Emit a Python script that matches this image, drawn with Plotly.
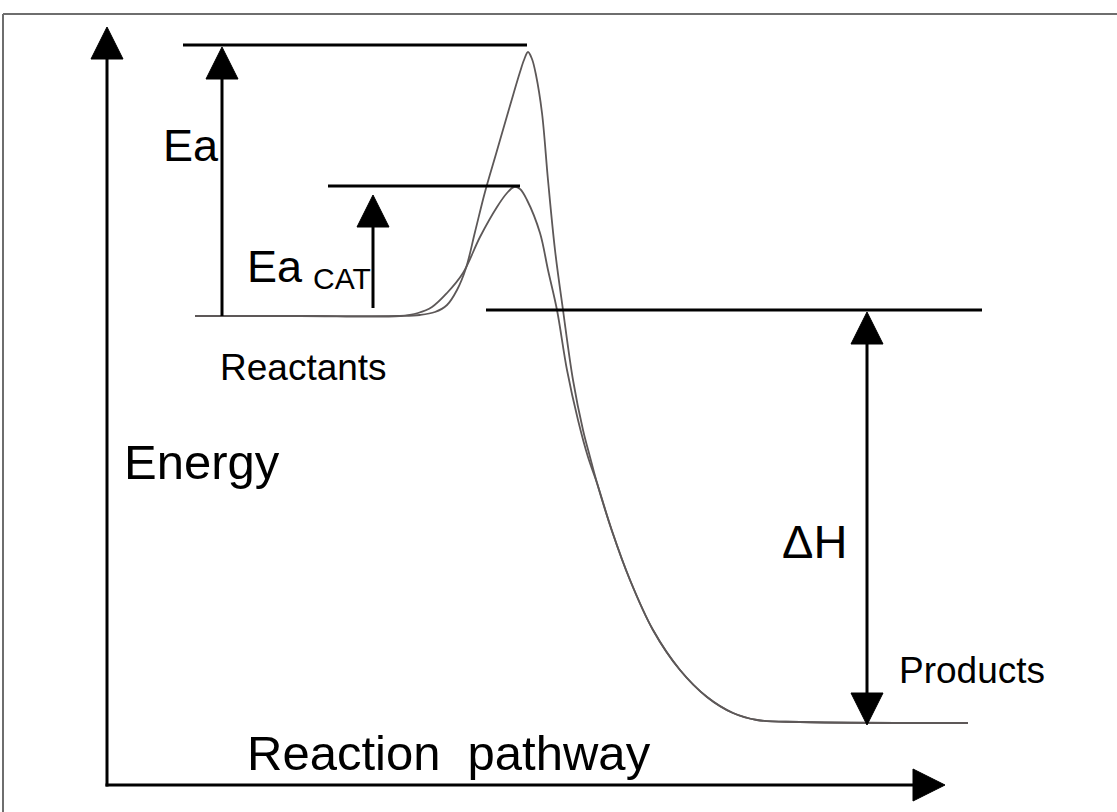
import plotly.graph_objects as go

# ---------------- data (x = reaction pathway units, y = energy units; products level = 0) -------------
uncat_x = [195, 300, 400, 420, 435, 447, 457, 466, 475, 485, 496, 507, 514, 520, 524, 528, 532, 536,
           542, 548, 555, 563, 573, 583, 590, 597, 612, 630, 653, 680, 707, 733, 757, 800, 968]
uncat_e = [407, 407, 407, 408, 411, 418, 433, 455, 491, 531, 569, 607, 631, 651, 663, 671, 664, 648,
           610, 543, 473, 413, 343, 293, 266, 240, 192, 143, 93, 53, 26, 10, 3, 1, 0]

cat_x = [195, 300, 400, 418, 432, 447, 463, 480, 497, 507, 514, 520, 527, 540, 548, 557, 567, 578,
         588, 597, 612, 630, 653, 680, 707, 733, 757, 800, 968]
cat_e = [407, 407, 407, 410, 416, 430, 450, 486, 516, 530, 536, 534, 523, 490, 453, 413, 353, 303,
         266, 240, 192, 143, 93, 53, 26, 10, 3, 1, 0]

# horizontal level lines
level_e = [678, 537, 413]
level_x0 = [183, 328, 486]
level_x1 = [527, 520, 982]

# vertical arrows (x, tail energy, tip energy, double headed)
arrow_x = [222, 373, 867]
arrow_from = [407, 415, 411]
arrow_to = [676, 528, -2]
arrow_double = [False, False, True]

# axes arrows
axis_origin_x = 107
axis_origin_e = -62
yaxis_tip_e = 696
xaxis_tip_x = 945

# labels
label_text = ["Ea", "Ea", "CAT", "Reactants", "Energy", "ΔH", "Products", "Reaction  pathway"]

# ---------------- figure ----------------
W, H = 1117, 812
X_RANGE = [0, 1117]
Y_RANGE = [-89, 723]

fig = go.Figure()

curve_color = "#5d5858"
fig.add_trace(go.Scatter(x=uncat_x, y=uncat_e, mode="lines",
                         line=dict(color=curve_color, width=1.8, shape="spline", smoothing=1.0),
                         hoverinfo="skip"))
fig.add_trace(go.Scatter(x=cat_x, y=cat_e, mode="lines",
                         line=dict(color=curve_color, width=1.8, shape="spline", smoothing=1.0),
                         hoverinfo="skip"))

shapes = []
# border (top and left only visible)
shapes.append(dict(type="line", xref="paper", yref="paper", x0=3 / W, x1=1, y0=1 - 14 / H, y1=1 - 14 / H,
                   line=dict(color="#6e6e6e", width=2)))
shapes.append(dict(type="line", xref="paper", yref="paper", x0=3 / W, x1=3 / W, y0=0, y1=1 - 14 / H,
                   line=dict(color="#6e6e6e", width=2)))

for e, x0, x1 in zip(level_e, level_x0, level_x1):
    shapes.append(dict(type="line", x0=x0, x1=x1, y0=e, y1=e, line=dict(color="black", width=3)))

HEAD_L = 32
HEAD_W = 16


def vhead(x, tip, direction):
    base = tip - direction * HEAD_L
    return dict(type="path", path=f"M {x - HEAD_W} {base} L {x + HEAD_W} {base} L {x} {tip} Z",
                fillcolor="black", line=dict(color="black", width=1))


def hhead(tipx, e):
    base = tipx - HEAD_L
    return dict(type="path", path=f"M {base} {e - HEAD_W} L {base} {e + HEAD_W} L {tipx} {e} Z",
                fillcolor="black", line=dict(color="black", width=1))


for x, a, b, dbl in zip(arrow_x, arrow_from, arrow_to, arrow_double):
    d = 1 if b > a else -1
    shapes.append(dict(type="line", x0=x, x1=x, y0=a + (d * HEAD_L / 2 if dbl else 0), y1=b - d * HEAD_L / 2,
                       line=dict(color="black", width=3)))
    shapes.append(vhead(x, b, d))
    if dbl:
        shapes.append(vhead(x, a, -d))

# axes
shapes.append(dict(type="line", x0=axis_origin_x, x1=axis_origin_x, y0=axis_origin_e - 1.5,
                   y1=yaxis_tip_e - HEAD_L / 2, line=dict(color="black", width=3)))
shapes.append(vhead(axis_origin_x, yaxis_tip_e, 1))
shapes.append(dict(type="line", x0=axis_origin_x - 1.5, x1=xaxis_tip_x - HEAD_L / 2, y0=axis_origin_e,
                   y1=axis_origin_e, line=dict(color="black", width=3)))
shapes.append(hhead(xaxis_tip_x, axis_origin_e))

# label placement (x left edge, energy of cap centre, font size)
label_x = [161, 245, 311, 218, 122, 780, 897, 245]
label_e = [578, 457, 445, 356, 261, 182, 53, -30]
label_size = [45, 45, 30, 37, 49, 47, 37, 49]

annotations = []
for t, x, e, s in zip(label_text, label_x, label_e, label_size):
    annotations.append(dict(x=x, y=e, text=t, showarrow=False, xanchor="left", yanchor="middle",
                            font=dict(family="Liberation Sans, Arial, sans-serif", size=s, color="black")))

fig.update_layout(
    width=W, height=H, margin=dict(l=0, r=0, t=0, b=0),
    paper_bgcolor="white", plot_bgcolor="white", showlegend=False,
    xaxis=dict(range=X_RANGE, visible=False, fixedrange=True),
    yaxis=dict(range=Y_RANGE, visible=False, fixedrange=True),
    shapes=shapes, annotations=annotations,
)

fig.write_html("out.html", config={"displayModeBar": False},
               post_script="document.body.style.margin='0px';document.body.style.overflow='hidden';")
